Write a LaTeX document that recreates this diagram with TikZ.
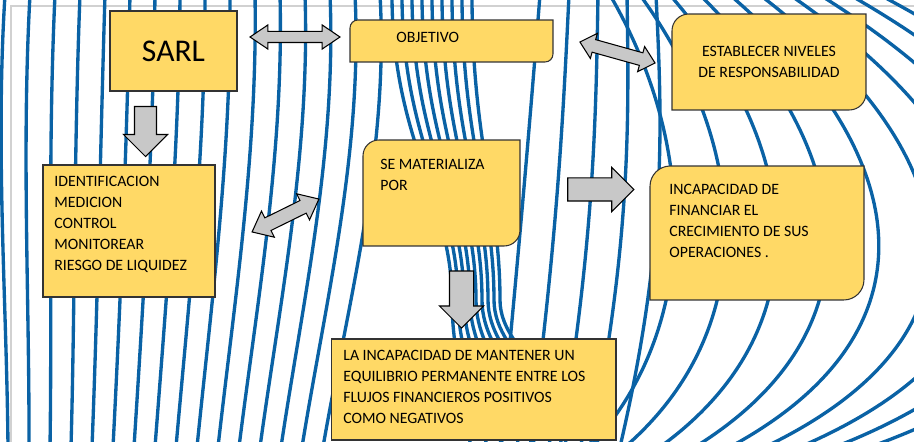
\documentclass[tikz,border=0pt]{standalone}
\usepackage{fontspec}
\setmainfont{Carlito}
\usetikzlibrary{positioning,shapes.arrows}

\definecolor{boxfill}{RGB}{255,217,102}
\definecolor{arrowfill}{RGB}{200,200,200}
\definecolor{fieldblue}{RGB}{10,98,165}

\newcommand{\diagframe}[2]{%
  \filldraw[boxframe] (#1.south west) -- ([yshift=-#2]#1.north west)
    arc[start angle=180,end angle=90,radius=#2] -- (#1.north east)
    -- ([yshift=#2]#1.south east)
    arc[start angle=0,end angle=-90,radius=#2] -- cycle;}

\begin{document}
\begin{tikzpicture}
  [x=0.02cm,y=-0.02cm,
   boxframe/.style={draw=black!80,fill=boxfill,line width=0.6pt},
   sqbox/.style={rectangle,boxframe,outer sep=0,inner sep=0},
   diagbox/.style={rectangle,draw=none,outer sep=0,inner sep=0},
   boxtext/.style={align=left,inner sep=0,font=\fontsize{9}{12}\selectfont},
   blockarrow/.style={draw=black,fill=arrowfill,line width=0.6pt,
                      inner sep=0,outer sep=0},
   dblarrow/.style={double arrow,blockarrow},
   sglarrow/.style={single arrow,blockarrow},
   fieldline/.style={draw=fieldblue,line width=1.9pt}]
  \useasboundingbox (0,0) rectangle (914,442);
  \begin{scope}
    \clip (0,0) rectangle (914,442);
    \draw[black!18,line width=0.6pt] (11,442) -- (11,6) -- (914,6);
    \foreach \i in {-2,...,15}{
      \pgfmathsetmacro{\xt}{5+25*\i}
      \pgfmathsetmacro{\xb}{8+21*\i}
      \pgfmathsetmacro{\ca}{\xt+0.05*(\xt-200)}
      \pgfmathsetmacro{\cb}{\xb+0.45*(\xt-\xb)}
      \draw[fieldline] (\xt,-5) .. controls (\ca,150) and (\cb,300) .. (\xb,447);
    }
    \foreach \i in {0,...,8}{
      \draw[fieldline] (392+10*\i,-5) .. controls (392+10*\i,140) and (452+6*\i,200) .. (452+6*\i,300)
        .. controls (452+6*\i,360) and (470+16*\i,400) .. (470+16*\i,447);
    }
    \foreach \i in {0,...,4}{
      \draw[fieldline] (540+29*\i,-5) .. controls (530+33*\i,120) and (520+37*\i,240) .. (500+30*\i,447);
    }
    \foreach \i in {0,...,10}{
      \pgfmathsetmacro{\xs}{610+30*\i}
      \pgfmathsetmacro{\xb}{590+35*\i}
      \pgfmathsetmacro{\w}{180+45*\i}
      \pgfmathsetmacro{\ca}{\xs+0.5*\w}
      \pgfmathsetmacro{\cb}{\xb+0.6*\w}
      \draw[fieldline] (\xs,-5) .. controls (\ca,150) and (\cb,330) .. (\xb,447);
    }
  \end{scope}

  \node[sqbox,minimum width=2.54cm,minimum height=1.6cm,
        font=\fontsize{18}{20}\selectfont] (sarl) at (173.5,51) {SARL};
  \node[diagbox,minimum width=4.06cm,minimum height=0.84cm] (objetivo) at (451.5,41) {};
  \node[diagbox,minimum width=3.88cm,minimum height=1.92cm] (niveles) at (769,62) {};
  \node[sqbox,minimum width=3.44cm,minimum height=2.64cm] (identif) at (129,231) {};
  \node[diagbox,minimum width=3.14cm,minimum height=2.12cm] (materializa) at (441.5,193) {};
  \node[diagbox,minimum width=4.28cm,minimum height=2.68cm] (financiar) at (757,233) {};
  \node[sqbox,minimum width=5.7cm,minimum height=2.02cm] (equilibrio) at (473.5,389.5) {};
  \diagframe{objetivo}{4.5pt}
  \diagframe{niveles}{9.5pt}
  \diagframe{materializa}{9pt}
  \diagframe{financiar}{11.5pt}

  \node[boxtext,below right=0.24cm and 0.92cm of objetivo.north west] (objetivo-txt) {OBJETIVO};
  \node[boxtext,align=center] (niveles-txt) at (niveles) {ESTABLECER NIVELES\\DE RESPONSABILIDAD};
  \node[boxtext,below right=0.22cm and 0.22cm of identif.north west] (identif-txt)
    {IDENTIFICACION\\MEDICION\\CONTROL\\MONITOREAR\\RIESGO DE LIQUIDEZ};
  \node[boxtext,below right=0.38cm and 0.34cm of materializa.north west] (materializa-txt)
    {SE MATERIALIZA\\POR};
  \node[boxtext,below right=0.36cm and 0.38cm of financiar.north west] (financiar-txt)
    {INCAPACIDAD DE\\FINANCIAR EL\\CRECIMIENTO DE SUS\\OPERACIONES .};
  \node[boxtext,below right=0.22cm and 0.24cm of equilibrio.north west] (equilibrio-txt)
    {LA INCAPACIDAD DE MANTENER UN\\EQUILIBRIO PERMANENTE ENTRE LOS\\FLUJOS FINANCIEROS POSITIVOS\\COMO NEGATIVOS};

  \node[dblarrow,minimum height=1.8cm,inner ysep=0.1cm,
        double arrow head extend=0.13cm,double arrow tip angle=68] (sarl-obj) at (295,37) {};
  \node[dblarrow,rotate=-15.6,minimum height=1.56cm,inner ysep=0.12cm,
        double arrow head extend=0.13cm,double arrow tip angle=84] (obj-niv) at (617.5,52.5) {};
  \node[sglarrow,rotate=-90,minimum height=1.0cm,inner ysep=0.21cm,
        single arrow head extend=0.22cm] (sarl-ident) at (145.5,126) {};
  \node[dblarrow,rotate=26.2,minimum height=1.49cm,inner ysep=0.13cm,
        double arrow head extend=0.15cm,double arrow tip angle=79] (ident-mat) at (285.5,215.5) {};
  \node[sglarrow,minimum height=1.32cm,inner ysep=0.22cm,
        single arrow head extend=0.21cm] (mat-fin) at (595,189.5) {};
  \node[sglarrow,rotate=-90,minimum height=1.14cm,inner ysep=0.23cm,
        single arrow head extend=0.2cm] (mat-equi) at (461.5,293.5) {};
\end{tikzpicture}
\end{document}
